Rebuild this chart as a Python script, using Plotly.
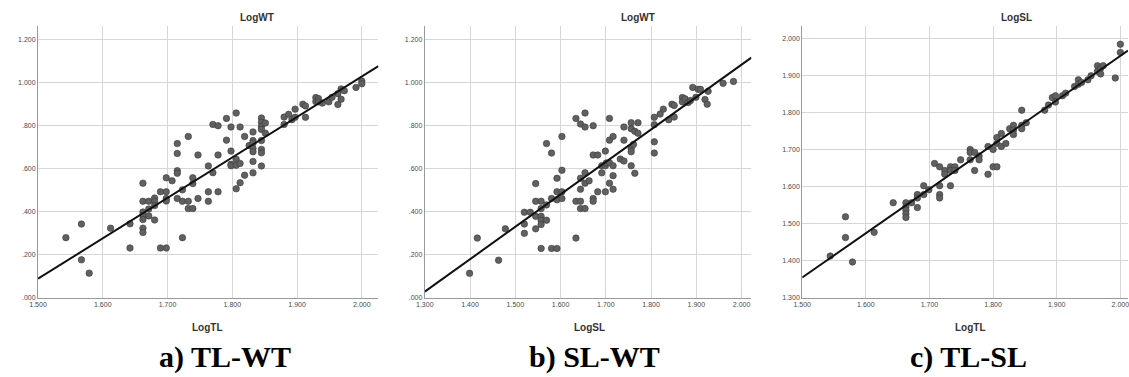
import plotly.graph_objects as go

# ---------------- data ----------------
a_tl = [1.543, 1.567, 1.567, 1.579, 1.612, 1.642, 1.642, 1.662, 1.662, 1.662, 1.662, 1.662, 1.662, 1.662,
        1.671, 1.671, 1.671, 1.680, 1.680, 1.680, 1.680, 1.689, 1.689, 1.698, 1.698, 1.698, 1.698, 1.698,
        1.707, 1.715, 1.715, 1.715, 1.715, 1.715, 1.723, 1.723, 1.723, 1.732, 1.732, 1.732, 1.739, 1.739,
        1.739, 1.747, 1.747, 1.763, 1.763, 1.763, 1.770, 1.770, 1.778, 1.778, 1.778, 1.791, 1.791, 1.798,
        1.798, 1.798, 1.798, 1.806, 1.806, 1.806, 1.806, 1.812, 1.812, 1.812, 1.819, 1.819, 1.826, 1.832,
        1.832, 1.832, 1.832, 1.832, 1.832, 1.832, 1.845, 1.845, 1.845, 1.845, 1.845, 1.845, 1.845, 1.845,
        1.851, 1.851, 1.880, 1.880, 1.887, 1.892, 1.897, 1.897, 1.909, 1.913, 1.913, 1.929, 1.929, 1.933,
        1.933, 1.939, 1.949, 1.954, 1.963, 1.963, 1.968, 1.968, 1.973, 1.991, 2.000, 2.000]
a_wt = [0.280, 0.343, 0.177, 0.115, 0.324, 0.344, 0.232, 0.533, 0.449, 0.399, 0.384, 0.364, 0.324, 0.304,
        0.449, 0.413, 0.381, 0.464, 0.449, 0.429, 0.362, 0.493, 0.232, 0.558, 0.493, 0.462, 0.450, 0.232,
        0.544, 0.717, 0.671, 0.591, 0.579, 0.462, 0.502, 0.449, 0.280, 0.750, 0.449, 0.415, 0.558, 0.531,
        0.415, 0.664, 0.462, 0.613, 0.493, 0.449, 0.806, 0.582, 0.800, 0.664, 0.493, 0.834, 0.733, 0.794,
        0.682, 0.621, 0.614, 0.859, 0.644, 0.616, 0.507, 0.794, 0.625, 0.535, 0.750, 0.570, 0.708, 0.771,
        0.731, 0.719, 0.694, 0.679, 0.634, 0.581, 0.836, 0.816, 0.797, 0.783, 0.731, 0.690, 0.674, 0.613,
        0.813, 0.765, 0.840, 0.806, 0.853, 0.828, 0.877, 0.839, 0.900, 0.892, 0.839, 0.931, 0.912, 0.926,
        0.911, 0.905, 0.911, 0.932, 0.949, 0.899, 0.971, 0.923, 0.963, 0.978, 1.008, 0.995]

b_sl = [1.399, 1.416, 1.463, 1.478, 1.520, 1.520, 1.520, 1.533, 1.545, 1.545, 1.545, 1.545, 1.557, 1.557,
        1.557, 1.557, 1.557, 1.557, 1.569, 1.569, 1.569, 1.580, 1.580, 1.580, 1.592, 1.592, 1.592, 1.592,
        1.603, 1.603, 1.603, 1.603, 1.634, 1.634, 1.634, 1.644, 1.644, 1.644, 1.644, 1.644, 1.654, 1.654,
        1.654, 1.654, 1.654, 1.663, 1.672, 1.672, 1.672, 1.672, 1.682, 1.682, 1.691, 1.691, 1.699, 1.699,
        1.699, 1.701, 1.708, 1.708, 1.708, 1.708, 1.716, 1.716, 1.716, 1.716, 1.732, 1.740, 1.740, 1.740,
        1.756, 1.756, 1.756, 1.756, 1.756, 1.761, 1.764, 1.764, 1.771, 1.771, 1.807, 1.807, 1.807, 1.807,
        1.820, 1.827, 1.839, 1.846, 1.851, 1.851, 1.869, 1.869, 1.875, 1.882, 1.887, 1.892, 1.899, 1.904,
        1.909, 1.919, 1.924, 1.926, 1.959, 1.982]
b_wt = [0.114, 0.278, 0.175, 0.321, 0.398, 0.343, 0.300, 0.398, 0.531, 0.449, 0.379, 0.321, 0.449, 0.415,
        0.379, 0.361, 0.341, 0.230, 0.717, 0.432, 0.361, 0.673, 0.462, 0.230, 0.556, 0.493, 0.456, 0.230,
        0.750, 0.593, 0.493, 0.462, 0.834, 0.449, 0.278, 0.808, 0.556, 0.505, 0.449, 0.415, 0.859, 0.794,
        0.581, 0.533, 0.415, 0.544, 0.800, 0.664, 0.462, 0.449, 0.664, 0.493, 0.614, 0.581, 0.682, 0.614,
        0.493, 0.627, 0.834, 0.733, 0.628, 0.533, 0.750, 0.614, 0.568, 0.505, 0.645, 0.794, 0.733, 0.636,
        0.814, 0.786, 0.694, 0.679, 0.614, 0.713, 0.579, 0.774, 0.814, 0.765, 0.839, 0.805, 0.725, 0.673,
        0.854, 0.877, 0.828, 0.900, 0.894, 0.840, 0.931, 0.911, 0.925, 0.908, 0.917, 0.978, 0.932, 0.969,
        0.969, 0.922, 0.900, 0.960, 0.997, 1.006]

c_tl = [1.544, 1.568, 1.568, 1.579, 1.613, 1.643, 1.663, 1.663, 1.663, 1.663, 1.663, 1.672, 1.681, 1.681,
        1.681, 1.691, 1.691, 1.699, 1.708, 1.716, 1.716, 1.716, 1.716, 1.724, 1.724, 1.733, 1.733, 1.733,
        1.740, 1.740, 1.749, 1.764, 1.764, 1.764, 1.771, 1.771, 1.778, 1.778, 1.792, 1.792, 1.800, 1.800,
        1.806, 1.806, 1.806, 1.813, 1.813, 1.820, 1.826, 1.832, 1.832, 1.832, 1.845, 1.845, 1.845, 1.852,
        1.881, 1.887, 1.893, 1.898, 1.898, 1.909, 1.914, 1.928, 1.934, 1.934, 1.939, 1.949, 1.954, 1.964,
        1.964, 1.969, 1.969, 1.973, 1.992, 2.000, 2.000]
c_sl = [1.413, 1.519, 1.463, 1.397, 1.477, 1.557, 1.557, 1.546, 1.537, 1.527, 1.517, 1.557, 1.579, 1.570,
        1.544, 1.603, 1.579, 1.592, 1.663, 1.654, 1.603, 1.579, 1.570, 1.644, 1.634, 1.654, 1.644, 1.603,
        1.654, 1.644, 1.673, 1.701, 1.693, 1.673, 1.693, 1.644, 1.683, 1.673, 1.709, 1.634, 1.701, 1.654,
        1.654, 1.733, 1.717, 1.744, 1.709, 1.717, 1.757, 1.766, 1.753, 1.741, 1.807, 1.766, 1.757, 1.773,
        1.807, 1.821, 1.841, 1.846, 1.829, 1.846, 1.853, 1.871, 1.889, 1.877, 1.882, 1.889, 1.900, 1.927,
        1.912, 1.920, 1.905, 1.927, 1.894, 1.985, 1.963]

# regression lines (slope, intercept)
fit_a = (1.880, -2.731)
fit_b = (1.507, -1.930)
fit_c = (1.197, -0.4405)

# axis ranges and ticks
rng_ax = [1.5, 2.0256]; rng_ay = [0.0, 1.261]
rng_bx = [1.3, 2.0215]; rng_by = [0.0, 1.261]
rng_cx = [1.5, 2.012]; rng_cy = [1.3, 2.033]
ticks_tl = [1.5, 1.6, 1.7, 1.8, 1.9, 2.0]
ticks_tl_txt = ["1.500", "1.600", "1.700", "1.800", "1.900", "2.000"]
ticks_sl = [1.3, 1.4, 1.5, 1.6, 1.7, 1.8, 1.9, 2.0]
ticks_sl_txt = ["1.300", "1.400", "1.500", "1.600", "1.700", "1.800", "1.900", "2.000"]
ticks_wt = [0.0, 0.2, 0.4, 0.6, 0.8, 1.0, 1.2]
ticks_wt_txt = [".000", ".200", ".400", ".600", ".800", "1.000", "1.200"]
ticks_slc = [1.3, 1.4, 1.5, 1.6, 1.7, 1.8, 1.9, 2.0]
ticks_slc_txt = ["1.300", "1.400", "1.500", "1.600", "1.700", "1.800", "1.900", "2.000"]

y_titles = ["LogWT", "LogWT", "LogSL"]
x_titles = ["LogTL", "LogSL", "LogTL"]
captions = ["a) TL-WT", "b) SL-WT", "c) TL-SL"]

# ---------------- figure ----------------
W, H = 1129, 377
fig = go.Figure()

panels = [
    dict(x=a_tl, y=a_wt, fit=fit_a, rx=rng_ax, ry=rng_ay, tx=(ticks_tl, ticks_tl_txt), ty=(ticks_wt, ticks_wt_txt),
         dom=[29.3, 372.7], title_x=250, xt_x=200, cap_x=218),
    dict(x=b_sl, y=b_wt, fit=fit_b, rx=rng_bx, ry=rng_by, tx=(ticks_sl, ticks_sl_txt), ty=(ticks_wt, ticks_wt_txt),
         dom=[419.5, 749.0], title_x=635, xt_x=586, cap_x=591),
    dict(x=c_tl, y=c_sl, fit=fit_c, rx=rng_cx, ry=rng_cy, tx=(ticks_tl, ticks_tl_txt), ty=(ticks_slc, ticks_slc_txt),
         dom=[800.3, 1129.0], title_x=1017, xt_x=970, cap_x=968),
]

ydom = [(H - 300.3) / H, (H - 26.7) / H]
tick_font = dict(family="Liberation Sans", size=7, color="#4a4a4a")
grid_col = "#d6d6d6"

for i, p in enumerate(panels):
    n = "" if i == 0 else str(i + 1)
    xa, ya = "x" + n, "y" + n
    fig.add_trace(go.Scatter(
        x=p["x"], y=p["y"], mode="markers", xaxis=xa, yaxis=ya, showlegend=False,
        marker=dict(size=6.5, color="#606060", line=dict(color="#3a3a3a", width=0.6)),
    ))
    s, b0 = p["fit"]
    lx = [p["rx"][0], p["rx"][1]]
    fig.add_trace(go.Scatter(
        x=lx, y=[s * v + b0 for v in lx], mode="lines", xaxis=xa, yaxis=ya, showlegend=False,
        line=dict(color="#111111", width=2),
    ))
    fig.layout["xaxis" + n] = dict(
        domain=[p["dom"][0] / W, min(p["dom"][1] / W, 1.0)], range=p["rx"], anchor=ya,
        tickvals=p["tx"][0], ticktext=p["tx"][1], tickfont=tick_font, ticks="", ticklen=0,
        ticklabeloverflow="allow",
        showgrid=True, gridcolor=grid_col, gridwidth=1, zeroline=False,
        showline=True, linecolor="#9a9a9a", linewidth=1, fixedrange=True,
    )
    fig.layout["yaxis" + n] = dict(
        domain=ydom, range=p["ry"], anchor=xa,
        tickvals=p["ty"][0], ticktext=p["ty"][1], tickfont=tick_font, ticks="", ticklen=0,
        ticklabeloverflow="allow",
        showgrid=True, gridcolor=grid_col, gridwidth=1, zeroline=False,
        showline=True, linecolor="#9a9a9a", linewidth=1, fixedrange=True,
    )
    fig.add_annotation(text="<b>" + y_titles[i] + "</b>", x=p["title_x"] / W, y=(H - 18) / H,
                       xref="paper", yref="paper", showarrow=False, xanchor="center", yanchor="middle",
                       font=dict(family="Liberation Sans", size=10, color="#333333"))
    fig.add_annotation(text="<b>" + x_titles[i] + "</b>", x=p["xt_x"] / W, y=(H - 330) / H,
                       xref="paper", yref="paper", showarrow=False, xanchor="center", yanchor="middle",
                       font=dict(family="Liberation Sans", size=10, color="#333333"))
    fig.add_annotation(text="<b>" + captions[i] + "</b>", x=p["cap_x"] / W, y=(H - 360) / H,
                       xref="paper", yref="paper", showarrow=False, xanchor="center", yanchor="middle",
                       font=dict(family="Liberation Serif", size=30, color="#000000"))

fig.update_layout(
    width=W, height=H, margin=dict(l=0, r=0, t=0, b=0),
    paper_bgcolor="white", plot_bgcolor="white",
)

fig.write_html("out.html", config={"displayModeBar": False},
               post_script="document.body.style.margin='0px';document.body.style.overflow='hidden';")
